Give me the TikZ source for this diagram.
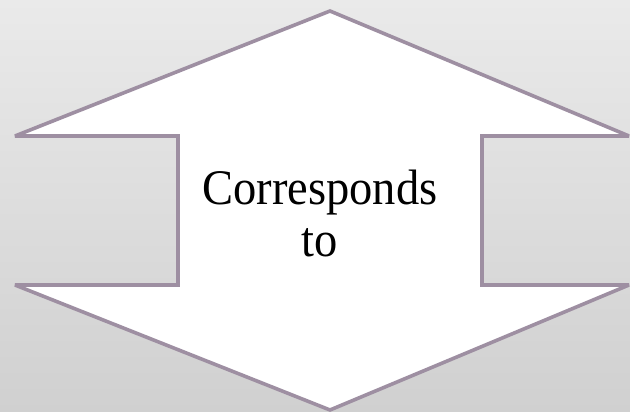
\documentclass[tikz,border=0pt]{standalone}
\usepackage{fontspec}
\setmainfont{Liberation Serif}
\definecolor{edgec}{RGB}{158,143,162}
\definecolor{bgtop}{RGB}{234,234,234}
\definecolor{bgbot}{RGB}{208,208,208}
\tikzset{arrowshape/.style={draw=edgec, line width=3.6pt, fill=white, line join=miter, miter limit=2},
  lbl/.style={font=\fontsize{46.5}{52}\selectfont, align=center, text=black, inner sep=0pt}}
\begin{document}
\begin{tikzpicture}[x=1pt,y=-1pt]
\shade[top color=bgtop, bottom color=bgbot] (0,0) rectangle (630,412);
\useasboundingbox (0,0) rectangle (630,412);
\draw[arrowshape] (330,11) -- (629,136) -- (482,136) -- (482,285) -- (629,285) -- (330,410)
  -- (15,285) -- (178,285) -- (178,136) -- (15,136) -- cycle;
\node[lbl] (t) at (320,213) {\scalebox{1}[1.07]{Corresponds}\\\scalebox{1}[1.07]{to}};
\end{tikzpicture}
\end{document}
